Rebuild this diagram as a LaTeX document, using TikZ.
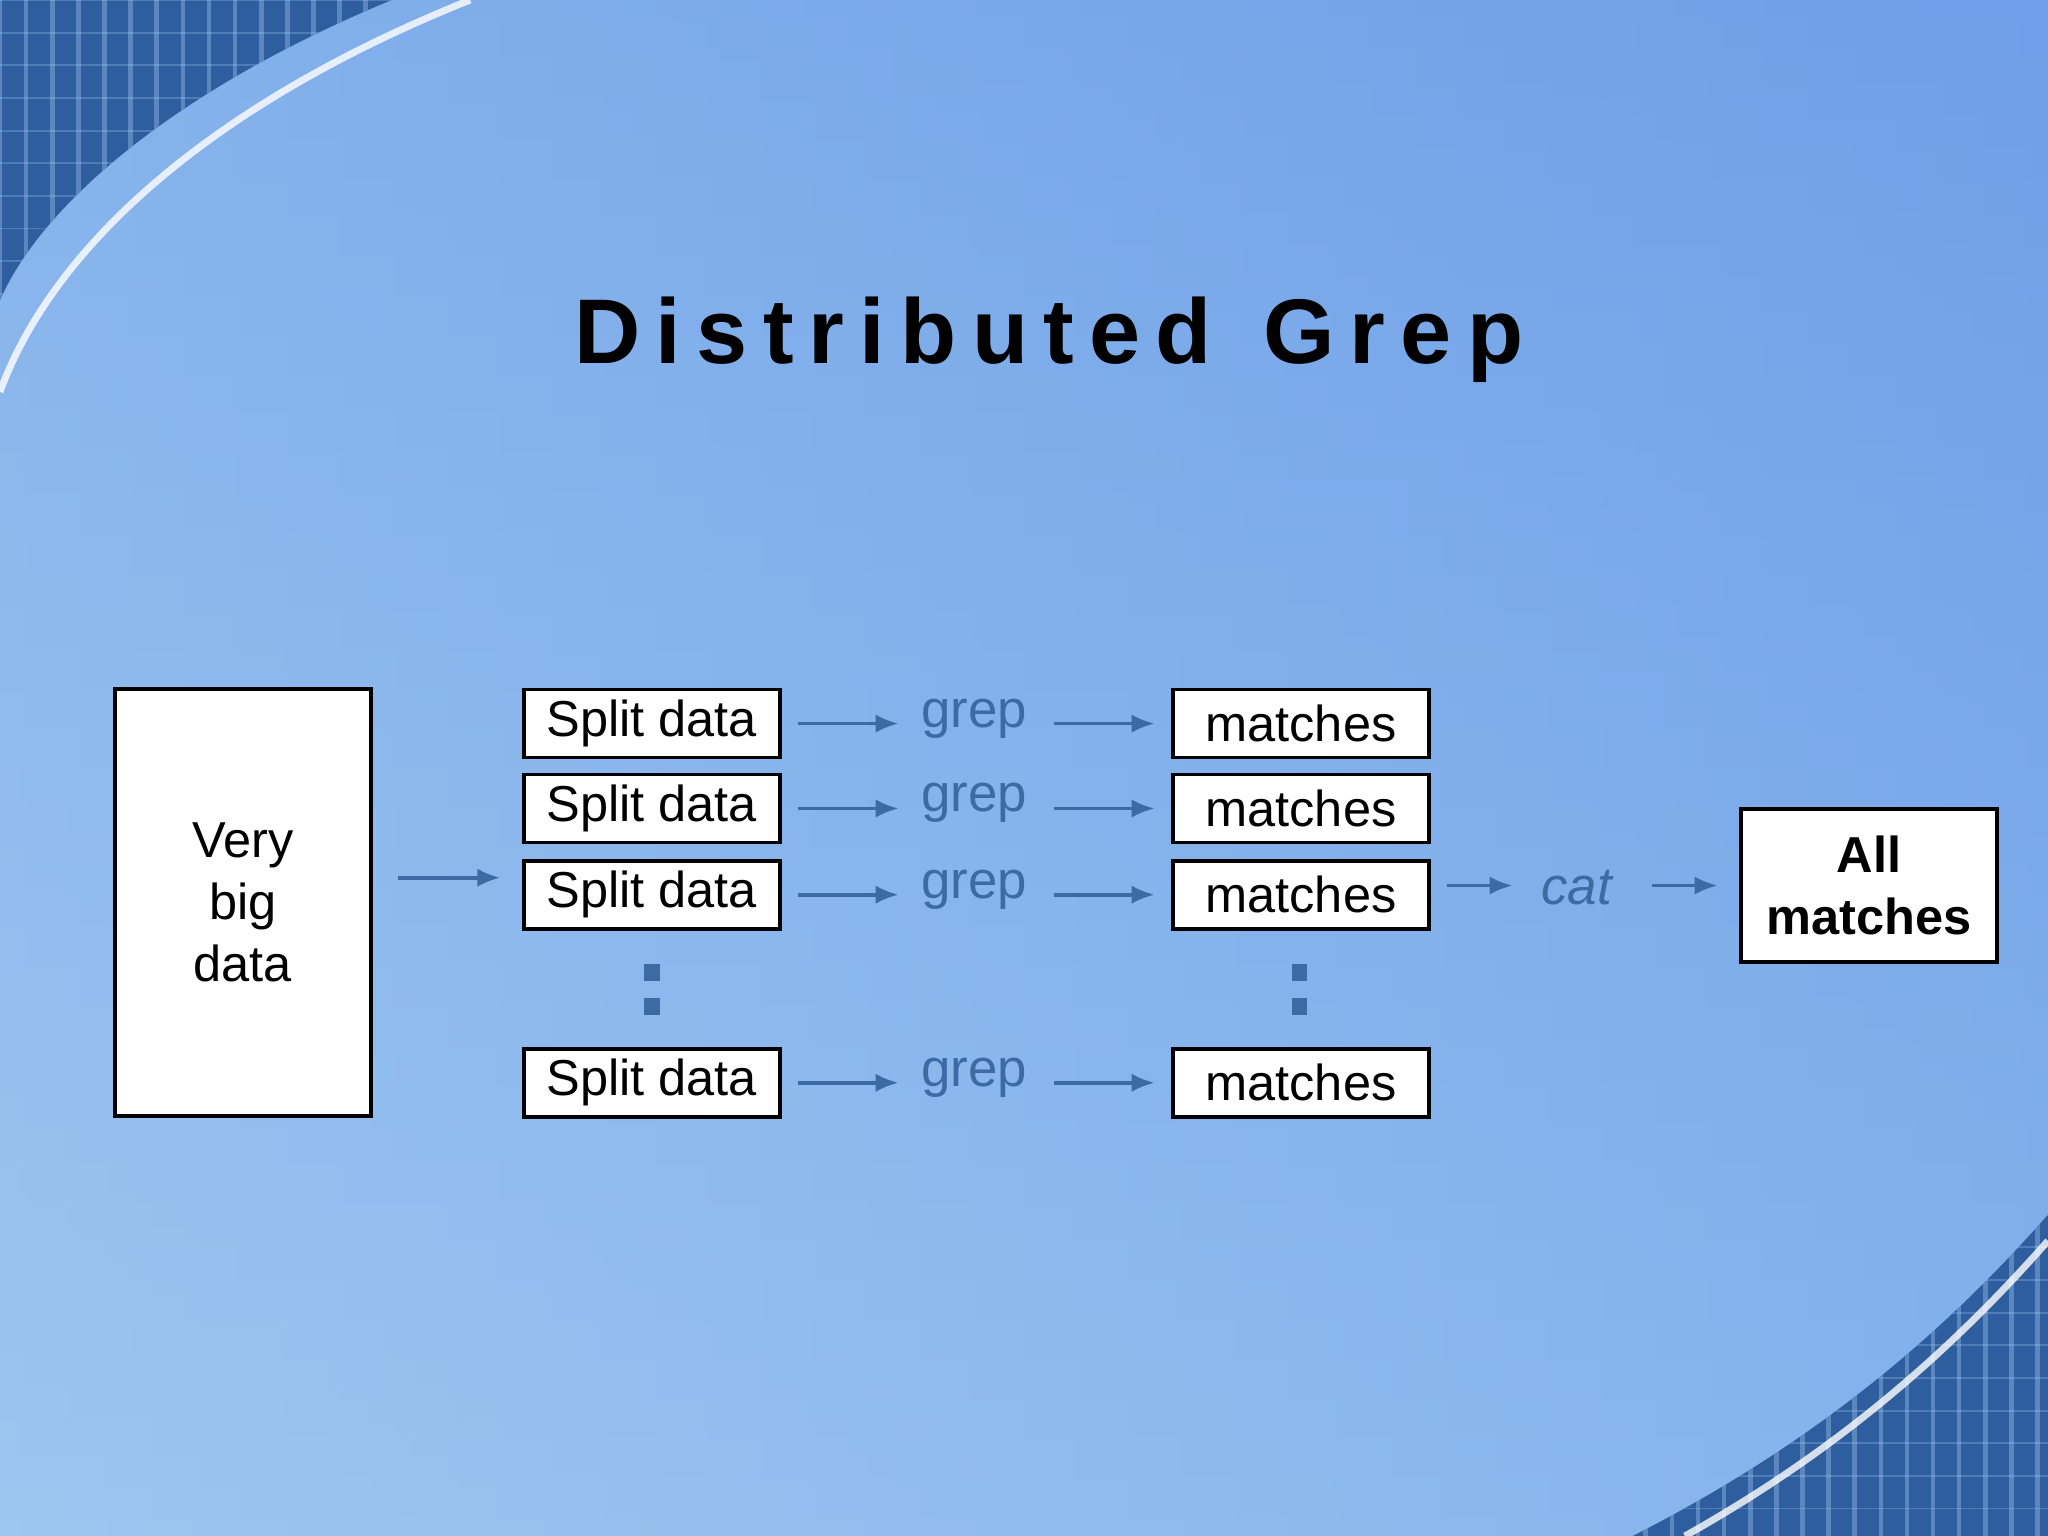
\documentclass[tikz,border=0pt]{standalone}
\usepackage{fontspec}
\setmainfont{Liberation Sans}
\usetikzlibrary{arrows.meta}
\begin{document}
\begin{tikzpicture}[x=0.01cm,y=-0.01cm,
  box/.style={draw=black,line width=0.8pt,fill=white,inner sep=0pt,font=\fontsize{11pt}{13.5pt}\selectfont,align=center},
  flow/.style={draw=arrowblue,line width=0.8pt,-{Latex[length=5pt,width=4pt]}},
  lbl/.style={text=arrowblue,font=\fontsize{11.5pt}{14pt}\selectfont,inner sep=0pt}]
\definecolor{arrowblue}{HTML}{3E6AA4}
\definecolor{bgA}{HTML}{9DC6F0}
\definecolor{bgB}{HTML}{6E9FE8}
\definecolor{gridc}{HTML}{2F5E9E}
\useasboundingbox (0,0) rectangle (1568,1176);
\shade[left color=bgA,right color=bgB] (0,0) rectangle (1568,1176);
\shade[top color=bgB,bottom color=bgA,opacity=0.5] (0,0) rectangle (1568,1176);
% corner decorations
\begin{scope}
\clip (0,0) -- (300,0) .. controls (130,70) and (30,160) .. (0,230) -- cycle;
\fill[gridc] (0,0) rectangle (400,300);
\foreach \i in {0,20,...,360} \draw[bgA,opacity=0.4,line width=1pt] (\i,0) -- (\i,300);
\foreach \i in {0,25,...,300} \draw[bgA,opacity=0.3] (0,\i) -- (400,\i);
\end{scope}
\draw[white,line width=1.5pt,opacity=0.8] (360,0) .. controls (160,80) and (40,190) .. (0,300);
\begin{scope}
\clip (1568,930) .. controls (1480,1030) and (1380,1110) .. (1250,1176) -- (1568,1176) -- cycle;
\fill[gridc] (1200,880) rectangle (1568,1176);
\foreach \i in {1200,1220,...,1568} \draw[bgA,opacity=0.4,line width=1pt] (\i,880) -- (\i,1176);
\foreach \i in {880,905,...,1176} \draw[bgA,opacity=0.3] (1200,\i) -- (1568,\i);
\end{scope}
\draw[white,line width=1.5pt,opacity=0.8] (1568,950) .. controls (1480,1050) and (1390,1120) .. (1290,1176);
% title
\node[font=\bfseries\fontsize{20pt}{24pt}\selectfont,inner sep=0pt] (title) at (803,260) {D\,i\,s\,t\,r\,i\,b\,u\,t\,e\,d\ \ G\,r\,e\,p};
% boxes
\node[box,minimum width=1.96cm,text width=1.9cm,minimum height=3.27cm] (big) at (186,691) {Very\\big\\data};
\foreach \n/\y in {1/554,2/619,3/685,4/829}{
  \node[box,minimum width=1.96cm,minimum height=0.52cm] (s\n) at (499,\y) {Split data};
  \node[box,minimum width=1.96cm,minimum height=0.52cm] (m\n) at (996,\y) {matches};
  \node[lbl] (g\n) at (746,\y-4) {grep};
  \coordinate (a\n) at (611,\y); \coordinate (a'\n) at (688,\y);
  \draw[flow] (a\n) -- (a'\n);
  \coordinate (b\n) at (807,\y); \coordinate (b'\n) at (884,\y);
  \draw[flow] (b\n) -- (b'\n);
}
\node[box,minimum width=1.96cm,minimum height=1.17cm,font=\bfseries\fontsize{11pt}{13.5pt}\selectfont] (all) at (1431,678) {All\\matches};
\node[lbl,font=\itshape\fontsize{11.5pt}{14pt}\selectfont] (cat) at (1207,680) {cat};
\coordinate (c0) at (305,672); \coordinate (c1) at (383,672);
\draw[flow] (c0) -- (c1);
\coordinate (d0) at (1108,678); \coordinate (d1) at (1158,678);
\draw[flow] (d0) -- (d1);
\coordinate (e0) at (1265,678); \coordinate (e1) at (1315,678);
\draw[flow] (e0) -- (e1);
% dots
\foreach \x in {499,995}{
  \fill[arrowblue] (\x-6,738) rectangle (\x+6,751);
  \fill[arrowblue] (\x-6,764) rectangle (\x+6,777);
}
\end{tikzpicture}
\end{document}
